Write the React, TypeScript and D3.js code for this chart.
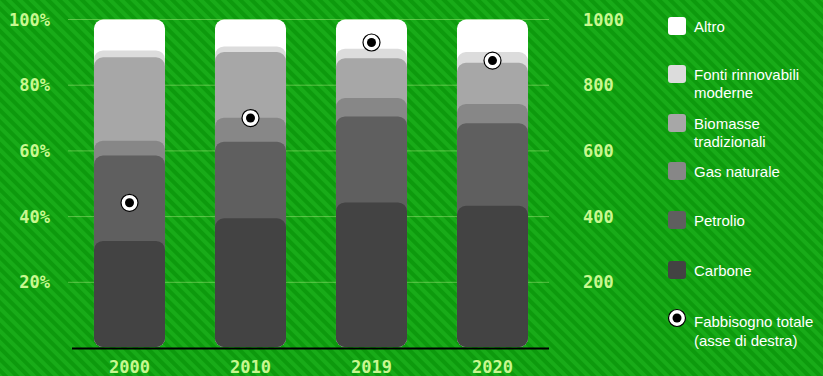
import React from "react";
import * as d3 from "d3";

const years = ["2000", "2010", "2019", "2020"];
const carbone = [32.6, 39.5, 44.3, 43.3];
const petrolio = [26.0, 23.3, 26.2, 25.1];
const gas = [4.5, 7.3, 5.6, 5.9];
const biomasse = [25.4, 20.0, 12.1, 12.5];
const rinnovabili = [2.1, 1.7, 2.9, 3.3];
const altro = [9.4, 8.2, 8.9, 9.9];
const totale = [442, 700, 930, 875];

const leftTicks = [20, 40, 60, 80, 100];
const rightTicks = [200, 400, 600, 800, 1000];

const seriesNames = ["Carbone", "Petrolio", "Gas naturale", "Biomasse tradizionali", "Fonti rinnovabili moderne", "Altro"];
const seriesColors = ["#434343", "#5f5f5f", "#878787", "#a7a7a7", "#dcdcdc", "#ffffff"];

const legendItems = [
  { lines: ["Altro"], color: "#ffffff" },
  { lines: ["Fonti rinnovabili", "moderne"], color: "#dcdcdc" },
  { lines: ["Biomasse", "tradizionali"], color: "#a7a7a7" },
  { lines: ["Gas naturale"], color: "#878787" },
  { lines: ["Petrolio"], color: "#5f5f5f" },
  { lines: ["Carbone"], color: "#434343" },
];

export default function App() {
  const W = 823, H = 376;
  const x = d3.scaleBand<string>().domain(years).range([69, 553]).paddingInner(0.413).paddingOuter(0.2065);
  const y = d3.scaleLinear().domain([0, 100]).range([348, 19.5]);
  const yR = d3.scaleLinear().domain([0, 1000]).range([348, 19.5]);
  const series = [carbone, petrolio, gas, biomasse, rinnovabili, altro];
  const tickFill = "#c8f890";
  const tickFont = "'DejaVu Sans Mono', monospace";

  const layers: { year: string; cum: number; color: string; key: string }[] = [];
  years.forEach((yr, i) => {
    let cum = 0;
    const cums = series.map((s) => (cum += s[i]));
    for (let k = series.length - 1; k >= 0; k--) {
      layers.push({ year: yr, cum: cums[k], color: seriesColors[k], key: yr + seriesNames[k] });
    }
  });

  const legendY = [26, 74, 123, 171, 220, 270];

  return (
    <svg width={W} height={H} style={{ position: "absolute", left: 0, top: 0 }} fontFamily="'Liberation Sans', Arial, sans-serif">
      <defs>
        <pattern id="stripes" width="8" height="8" patternUnits="userSpaceOnUse" patternTransform="rotate(-45)">
          <rect width="8" height="8" fill="#18ab18" />
          <rect width="4" height="8" fill="#0d9a0d" />
        </pattern>
      </defs>
      <rect width={W} height={H} fill="url(#stripes)" />
      {leftTicks.map((t) => (
        <line key={"g" + t} x1={68} x2={549} y1={y(t)} y2={y(t)} stroke="#b8f08a" strokeOpacity={0.45} strokeWidth={1} />
      ))}
      {leftTicks.map((t) => (
        <text key={"l" + t} x={50} y={y(t) + 6} textAnchor="end" fontFamily={tickFont} fontWeight="bold" fontSize={17} fill={tickFill}>
          {t + "%"}
        </text>
      ))}
      {rightTicks.map((t) => (
        <text key={"r" + t} x={583} y={yR(t) + 6} textAnchor="start" fontFamily={tickFont} fontWeight="bold" fontSize={17} fill={tickFill}>
          {t}
        </text>
      ))}
      {layers.map((l) => (
        <rect key={l.key} x={x(l.year)!} width={x.bandwidth()} y={y(l.cum)} height={y(0) - y(l.cum) - 1} rx={9} ry={9} fill={l.color} />
      ))}
      <line x1={72} x2={549} y1={348.5} y2={348.5} stroke="#000" strokeWidth={2} />
      {years.map((yr) => (
        <text key={"x" + yr} x={x(yr)! + x.bandwidth() / 2} y={373} textAnchor="middle" fontFamily={tickFont} fontWeight="bold" fontSize={17} fill={tickFill}>
          {yr}
        </text>
      ))}
      {years.map((yr, i) => (
        <g key={"d" + yr} transform={`translate(${x(yr)! + x.bandwidth() / 2},${yR(totale[i])})`}>
          <circle r={8.5} fill="#fff" stroke="#000" strokeWidth={1.2} />
          <circle r={4.5} fill="#000" />
        </g>
      ))}
      {legendItems.map((it, i) => (
        <g key={"lg" + i}>
          <rect x={668} y={legendY[i] - 9} width={18} height={18} rx={3} fill={it.color} />
          {it.lines.map((ln, j) => (
            <text key={j} x={694} y={legendY[i] + 5.5 + j * 18.5} fontSize={15} fill="#fff">
              {ln}
            </text>
          ))}
        </g>
      ))}
      <g transform="translate(677,318)">
        <circle r={8.5} fill="#fff" stroke="#000" strokeWidth={1.2} />
        <circle r={4.5} fill="#000" />
      </g>
      <text x={694} y={327} fontSize={15} fill="#fff">Fabbisogno totale</text>
      <text x={694} y={345.5} fontSize={15} fill="#fff">(asse di destra)</text>
    </svg>
  );
}
